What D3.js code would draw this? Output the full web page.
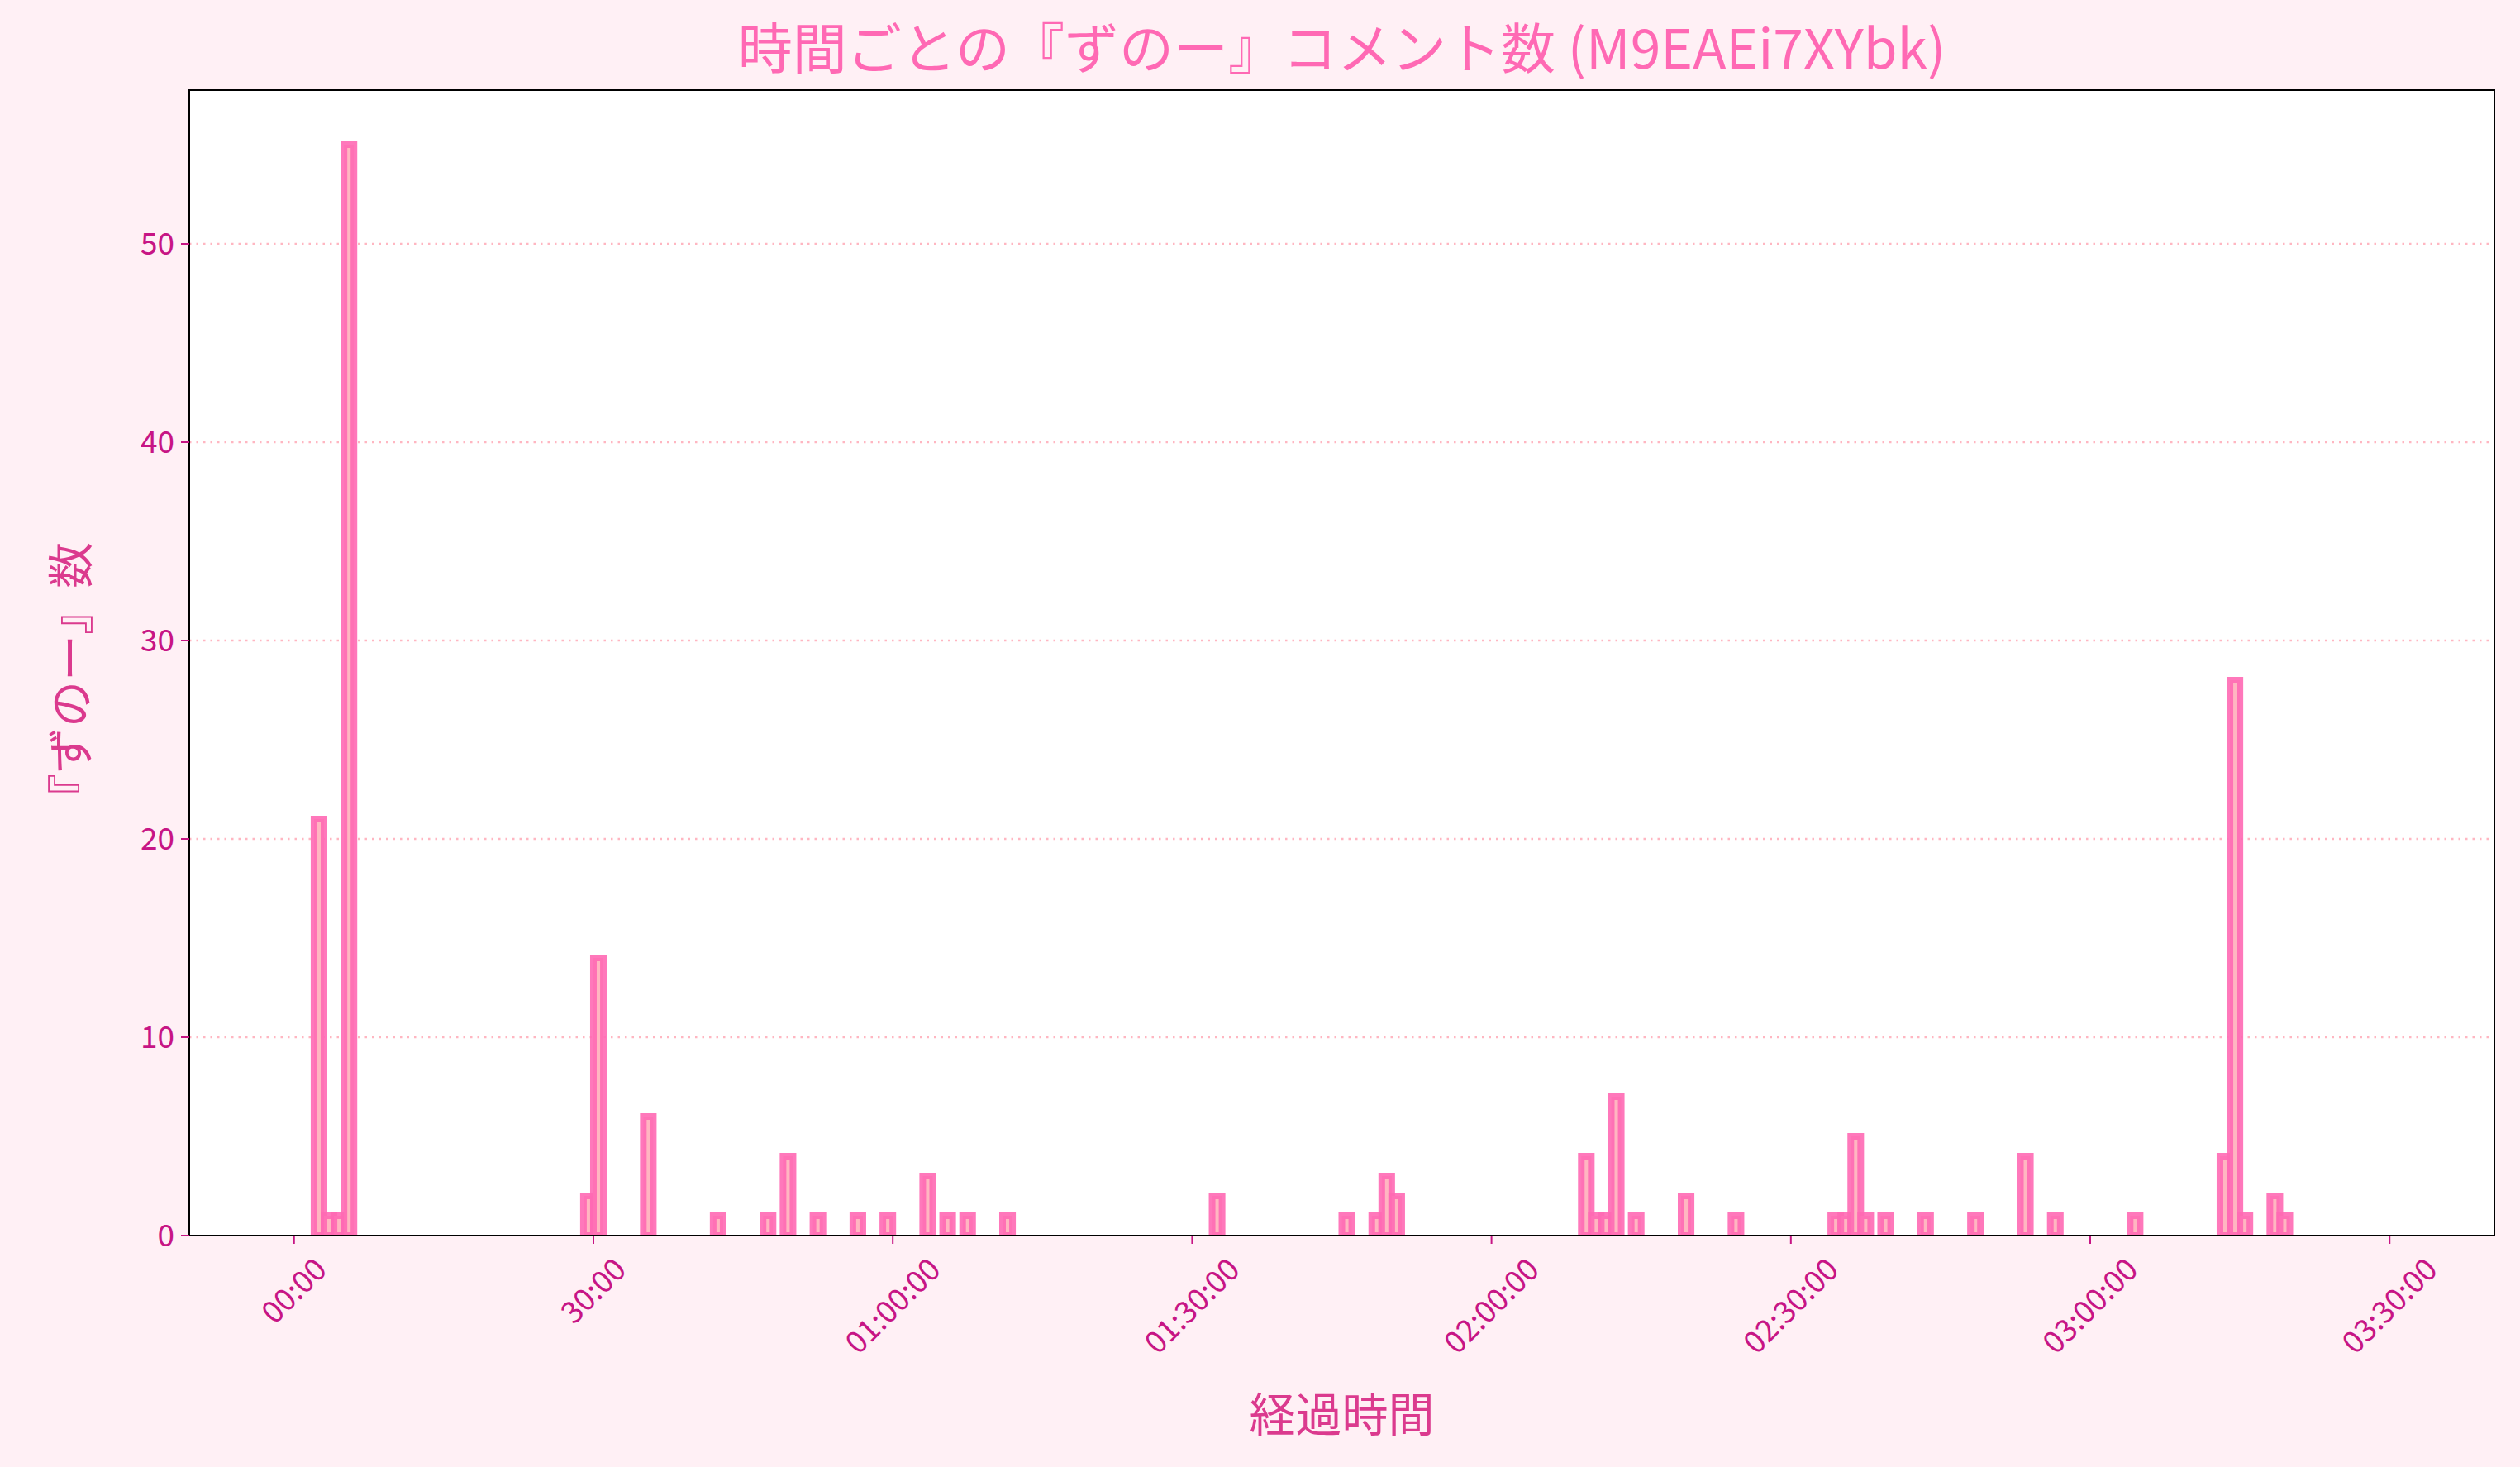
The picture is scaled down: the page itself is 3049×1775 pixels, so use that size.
<!DOCTYPE html>
<html><head><meta charset="utf-8">
<script src="https://cdn.jsdelivr.net/npm/d3@7"></script>
<style>body{margin:0;background:#fff0f5;}svg{display:block;}</style>
</head><body>
<script>
const title = "時間ごとの『ずのー』コメント数 (M9EAEi7XYbk)";
const xLabel = "経過時間";
const yLabel = "『ずのー』数";
const binMinutes = 1;
const totalMinutes = 210;
// non-zero bins: minute index and count
const binStart = [2,3,4,5,29,30,35,42,47,49,52,56,59,63,65,67,71,92,105,108,109,110,129,130,131,132,134,139,144,154,155,156,157,159,163,168,173,176,184,193,194,195,198,199];
const binCount = [21,1,1,55,2,14,6,1,1,4,1,1,1,3,1,1,1,2,1,1,3,2,4,1,1,7,1,2,1,1,1,5,1,1,1,1,4,1,1,4,28,1,2,1];
const xTickMinutes = [0,30,60,90,120,150,180,210];
const xTickLabels = ["00:00","30:00","01:00:00","01:30:00","02:00:00","02:30:00","03:00:00","03:30:00"];
const yTicks = [0,10,20,30,40,50];

const W=3049,H=1775;
const m={l:229,r:3018,t:109,b:1495};
const svg=d3.select("body").append("svg").attr("width",W).attr("height",H);
svg.append("rect").attr("width",W).attr("height",H).attr("fill","#fff0f5");
svg.append("rect").attr("x",m.l).attr("y",m.t).attr("width",m.r-m.l).attr("height",m.b-m.t).attr("fill","#ffffff");

const x=d3.scaleLinear().domain([-10.5,220.5]).range([m.l,m.r]);
const y=d3.scaleLinear().domain([0,57.75]).range([m.b,m.t]);

svg.append("g").selectAll("line").data(yTicks.slice(1)).join("line")
 .attr("x1",m.l).attr("x2",m.r).attr("y1",d=>y(d)).attr("y2",d=>y(d))
 .attr("stroke","#ffb6c1").attr("stroke-width",2.5).attr("stroke-dasharray","2.5,6");

const counts=d3.range(totalMinutes/binMinutes).map(i=>{const k=binStart.indexOf(i);return {s:i,v:k<0?0:binCount[k]};});
svg.append("clipPath").attr("id","c").append("rect").attr("x",m.l).attr("y",m.t).attr("width",m.r-m.l).attr("height",m.b-m.t);
svg.append("g").attr("clip-path","url(#c)").selectAll("rect").data(counts).join("rect")
 .attr("x",d=>x(d.s)).attr("width",d=>x(d.s+binMinutes)-x(d.s))
 .attr("y",d=>y(d.v)).attr("height",d=>y(0)-y(d.v))
 .attr("fill","#ffb6c1").attr("stroke","#ff69b4").attr("stroke-opacity",0.9).attr("stroke-width",8);

svg.append("rect").attr("x",m.l).attr("y",m.t).attr("width",m.r-m.l).attr("height",m.b-m.t)
 .attr("fill","none").attr("stroke","#000").attr("stroke-width",2);

const fs=37;
const yg=svg.append("g");
yTicks.forEach(t=>{
  yg.append("line").attr("x1",m.l-10).attr("x2",m.l).attr("y1",y(t)).attr("y2",y(t)).attr("stroke","#c71585").attr("stroke-width",2);
  yg.append("text").attr("x",m.l-18).attr("y",y(t)).attr("dy","0.35em").attr("text-anchor","end")
   .attr("font-family","Noto Sans CJK JP").attr("font-size",fs).attr("fill","#c71585").text(t);
});
const xg=svg.append("g");
xTickMinutes.forEach((t,i)=>{
  xg.append("line").attr("x1",x(t)).attr("x2",x(t)).attr("y1",m.b).attr("y2",m.b+10).attr("stroke","#c71585").attr("stroke-width",2);
  const tx=xg.append("text").attr("font-family","Noto Sans CJK JP").attr("font-size",fs).attr("fill","#c71585")
   .attr("text-anchor","middle").attr("dy","0.35em").text(xTickLabels[i]);
  const bb=tx.node().getBBox();
  const hh=(bb.width+bb.height*0.75)/Math.SQRT2;
  const cy=m.b+10+10+hh/2;
  tx.attr("transform",`translate(${x(t)},${cy}) rotate(-45)`);
});

svg.append("text").attr("x",(m.l+m.r)/2).attr("y",60).attr("dy","0.35em").attr("text-anchor","middle")
 .attr("font-family","Noto Sans CJK JP").attr("font-size",66).attr("fill","#ff69b4").text(title);
svg.append("text").attr("x",(m.l+m.r)/2).attr("y",1712).attr("dy","0.35em").attr("text-anchor","middle")
 .attr("font-family","Noto Sans CJK JP").attr("font-size",56).attr("fill","#db3a8e").text(xLabel);
svg.append("text").attr("transform",`translate(86,${(m.t+m.b)/2+22}) rotate(-90)`).attr("dy","0.35em").attr("text-anchor","middle")
 .attr("font-family","Noto Sans CJK JP").attr("font-size",56).attr("fill","#db3a8e").text(yLabel);
</script>
</body></html>
